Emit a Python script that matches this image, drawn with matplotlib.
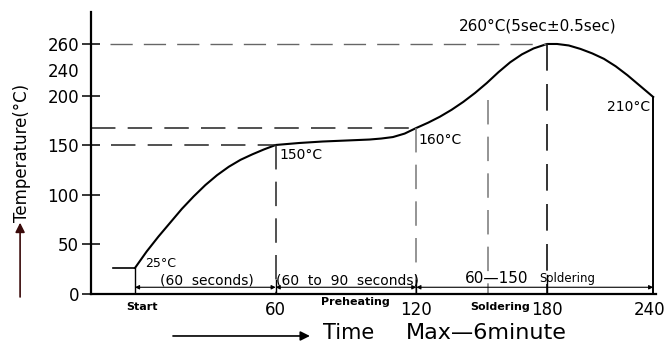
import matplotlib
matplotlib.use('Agg')
import matplotlib.pyplot as plt

curve_x = [0, 5, 10, 15, 20, 25, 30, 35, 40, 45, 50, 55, 60,
           70, 80, 90, 100, 105, 110, 115, 120,
           125, 130, 135, 140, 145, 150, 155, 160, 165, 170, 175.7,
           180, 185, 190, 195, 200, 205, 210, 215, 221]
curve_y = [26.3, 43, 58, 72, 86, 98.5, 110, 120, 128.5, 135.5, 141, 146, 150.5,
           152.5, 154, 155, 156, 157, 158.5, 162, 167.7,
           173, 179, 186, 194, 203, 213, 224, 234, 242, 248, 252.5,
           252.5, 251, 247.5, 243, 237.5, 230, 221, 211, 199]

start_x = [-9.4, 0]
start_y = [26.3, 26.3]

ytick_pos = [0, 50, 100, 150, 200, 226, 252.5]
ytick_lab = ['0', '50', '100', '150', '200', '240', '260']
xtick_pos = [60, 120, 175.7, 219.6]
xtick_lab = ['60', '120', '180', '240']

# markante Punkte
x_pre, x_heat, x_sold, x_peak, x_end = 60, 120, 150.5, 175.7, 221
y_150, y_160, y_peak, y_end, y_sold = 150.5, 167.7, 252.5, 199, 196

fig = plt.figure(figsize=(6.67, 3.47), dpi=100)
ax = fig.add_axes([91/667, 53/347, 565/667, 282/347])
ax.set_xlim(-18.76, 222.2)
ax.set_ylim(0, 284.8)

for s in ['top', 'right']:
    ax.spines[s].set_visible(False)
ax.spines['left'].set_linewidth(1.6)
ax.spines['bottom'].set_linewidth(1.6)

ax.set_yticks(ytick_pos, ytick_lab, fontsize=12)
ax.tick_params(axis='y', direction='inout', length=13, width=1.1, pad=2)
ax.yaxis.get_major_ticks()[5].tick1line.set_visible(False)
ax.set_xticks(xtick_pos, xtick_lab, fontsize=12)
ax.tick_params(axis='x', length=0, pad=5)

# Kurve
ax.plot(curve_x, curve_y, 'k-', lw=1.5, clip_on=False)
ax.plot(start_x, start_y, 'k-', lw=1.2)
ax.plot([0, 0], [0, 26.3], 'k-', lw=1)
ax.plot([x_end, x_end], [0, y_end], 'k-', lw=1.4, clip_on=False)

# gestrichelte Hilfslinien
dash = (0, (16, 8))
ax.plot([-10.7, x_peak], [y_peak, y_peak], color='#666666', lw=1, ls=dash)
ax.plot([-18.76, x_heat], [y_160, y_160], color='#222222', lw=1.1, ls=dash)
ax.plot([-10.2, x_pre], [y_150, y_150], color='#222222', lw=1.1, ls=dash)
ax.plot([x_pre, x_pre], [y_150, 0], color='#222222', lw=1.1, ls=dash)
ax.plot([x_heat, x_heat], [y_160, 0], color='#777777', lw=1.1, ls=dash)
ax.plot([x_sold, x_sold], [y_sold, 0], color='#777777', lw=1.1, ls=dash)
ax.plot([x_peak, x_peak], [y_peak, 0], color='#111111', lw=1.2, ls=dash)

# kleine Markierungen auf der Pfeillinie
ax.plot([x_pre, x_pre], [0, 14], 'k-', lw=1)
ax.plot([x_heat, x_heat], [0, 14], 'k-', lw=1)
ax.plot([x_peak, x_peak], [0, 19], 'k-', lw=1)

# Pfeile fuer die Zeitabschnitte
y_arr = 6.8
for a, b in [(0, x_pre), (x_pre, x_heat), (x_heat, x_end)]:
    ax.annotate('', xy=(b, y_arr), xytext=(a, y_arr),
                arrowprops=dict(arrowstyle='<|-|>', lw=0.8, color='k',
                                mutation_scale=6, shrinkA=0, shrinkB=0))

# Beschriftungen
ax.text(171.6, 270.7, '260°C(5sec±0.5sec)', fontsize=11, ha='center', va='center')
ax.text(61.8, 140.4, '150°C', fontsize=10, ha='left', va='center')
ax.text(120.7, 155.6, '160°C', fontsize=10, ha='left', va='center')
ax.text(219.6, 188.9, '210°C', fontsize=10, ha='right', va='center')
ax.text(4.3, 30.8, '25°C', fontsize=9, ha='left', va='center')
ax.text(30.7, 14.1, '(60  seconds)', fontsize=10, ha='center', va='center')
ax.text(90.6, 14.1, '(60  to  90  seconds)', fontsize=10, ha='center', va='center')
ax.text(140.7, 15.2, '60—150', fontsize=11, ha='left', va='center')
ax.text(172.3, 15.2, 'Soldering', fontsize=8.5, ha='left', va='center')

ax.text(3, -13.1, 'Start', fontsize=8, fontweight='bold', ha='center', va='center')
ax.text(94.2, -8, 'Preheating', fontsize=8, fontweight='bold', ha='center', va='center')
ax.text(168.4, -13.1, 'Soldering', fontsize=8, fontweight='bold', ha='right', va='center')

ax.text(80.3, -39.4, 'Time', fontsize=15, ha='left', va='center')
ax.text(115.6, -39.4, 'Max—6minute', fontsize=16, ha='left', va='center')
ax.annotate('', xy=(74.6, -42.4), xytext=(16.2, -42.4), annotation_clip=False,
            arrowprops=dict(arrowstyle='-|>', lw=1.2, color='k', mutation_scale=14,
                            shrinkA=0, shrinkB=0))

ax.text(-48, 142.4, 'Temperature(°C)', fontsize=12, rotation=90, ha='center', va='center')
ax.annotate('', xy=(-49, 72), xytext=(-49, -3), annotation_clip=False,
            arrowprops=dict(arrowstyle='-|>', lw=1.2, color='#3a0a0a', mutation_scale=14,
                            shrinkA=0, shrinkB=0))

fig.savefig('out.png', dpi=100)
